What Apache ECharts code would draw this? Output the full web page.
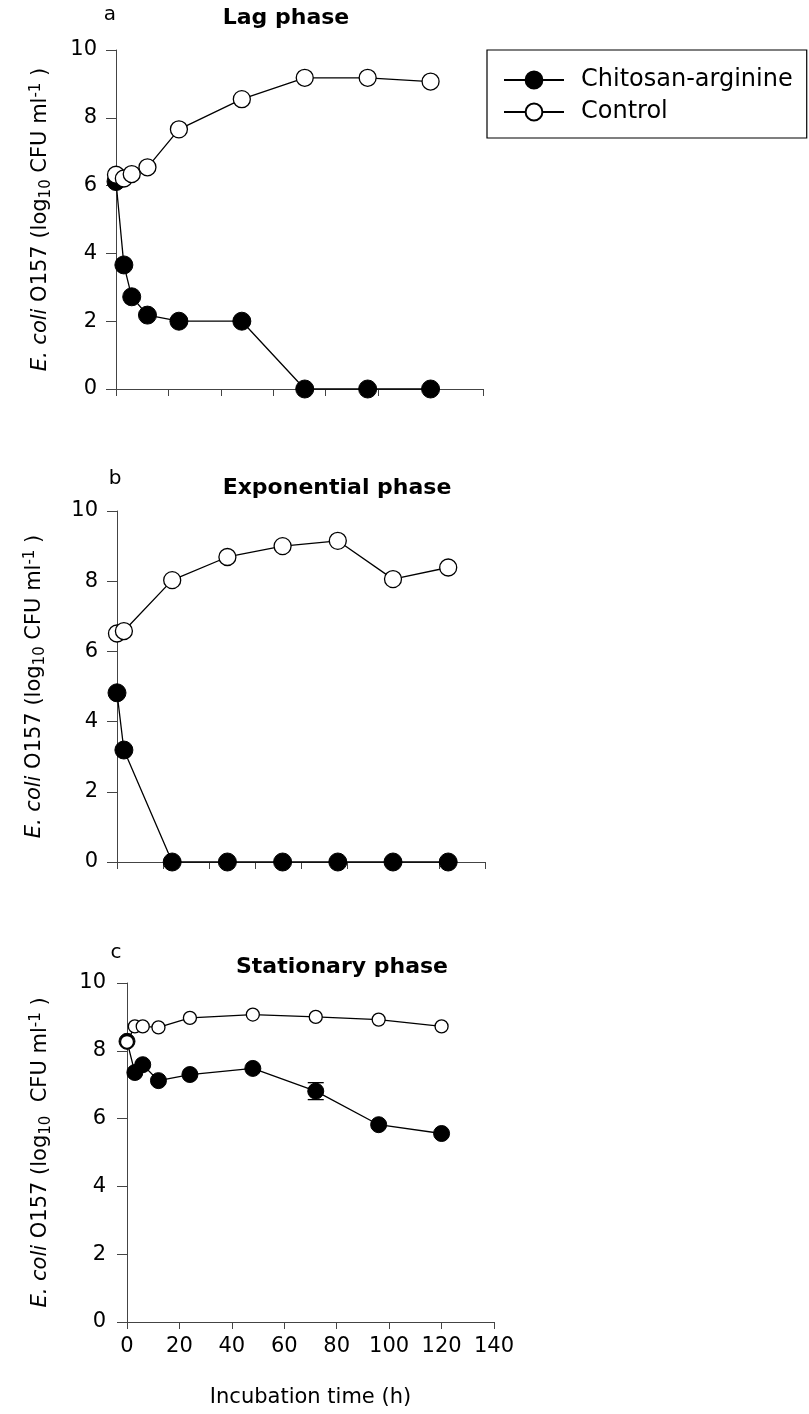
<!DOCTYPE html>
<html>
<head>
<meta charset="utf-8">
<script src="https://cdn.jsdelivr.net/npm/echarts@6/dist/echarts.min.js"></script>
<style>
  html, body { margin: 0; padding: 0; background: #fff; }
  #chart { width: 809px; height: 1414px; }
</style>
</head>
<body>
<div id="chart"></div>
<script>
// E. coli O157 counts (log10 CFU/ml) during incubation with chitosan-arginine vs control

const seriesNames = ['Chitosan-arginine', 'Control'];
const panelLetters = ['a', 'b', 'c'];
const panelTitles = ['Lag phase', 'Exponential phase', 'Stationary phase'];
const xAxisTitle = 'Incubation time (h)';
const yTickValues = [0, 2, 4, 6, 8, 10];
const xTickLabelsC = [0, 20, 40, 60, 80, 100, 120, 140];
const xMaxByPanel = [140, 160, 140];

// (a) lag phase
const lagTime = [0, 3, 6, 12, 24, 48, 72, 96, 120];
const lagChitosan = [6.12, 3.66, 2.72, 2.18, 2.0, 2.0, 0, 0, 0];
const lagControl = [6.32, 6.21, 6.34, 6.54, 7.66, 8.55, 9.18, 9.18, 9.07];

// (b) exponential phase
const expTime = [0, 3, 24, 48, 72, 96, 120, 144];
const expChitosan = [4.82, 3.19, 0, 0, 0, 0, 0, 0];
const expControl = [6.51, 6.58, 8.03, 8.69, 9.0, 9.15, 8.06, 8.39];

// (c) stationary phase
const statTime = [0, 3, 6, 12, 24, 48, 72, 96, 120];
const statChitosan = [8.28, 7.36, 7.59, 7.12, 7.30, 7.48, 6.81, 5.82, 5.56];
const statChitosanErr = [0, 0, 0, 0, 0, 0, 0.25, 0, 0];
const statControl = [8.26, 8.72, 8.72, 8.69, 8.97, 9.07, 9.0, 8.92, 8.72];

const FONT = 'DejaVu Sans';
const AXIS_COLOR = '#444';

const grids = [
  { left: 116, top: 50, width: 367, height: 339 },
  { left: 117, top: 511, width: 368, height: 351 },
  { left: 127, top: 983, width: 367, height: 339 }
];

const pairs = (xs, ys) => xs.map((x, i) => [x, ys[i]]);

const panels = [
  { time: lagTime, chit: lagChitosan, ctrl: lagControl, chitSize: 18, ctrlSize: 17 },
  { time: expTime, chit: expChitosan, ctrl: expControl, chitSize: 18, ctrlSize: 17 },
  { time: statTime, chit: statChitosan, ctrl: statControl, chitSize: 16, ctrlSize: 13 }
];

const xAxes = grids.map((g, i) => ({
  type: 'value', gridIndex: i, min: 0, max: xMaxByPanel[i], interval: 20,
  axisLine: { show: true, onZero: false, lineStyle: { color: AXIS_COLOR, width: 1 } },
  axisTick: { show: true, inside: false, length: 7, lineStyle: { color: AXIS_COLOR, width: 1 } },
  axisLabel: i === 2 ? {
    show: true, margin: 14, color: '#000', fontFamily: FONT, fontSize: 21,
    customValues: xTickLabelsC,
    formatter: v => String(v)
  } : { show: false },
  splitLine: { show: false },
  name: i === 2 ? xAxisTitle : '',
  nameLocation: 'middle', nameGap: 65,
  nameTextStyle: { color: '#000', fontFamily: FONT, fontSize: 21 }
}));

const yAxes = grids.map((g, i) => ({
  type: 'value', gridIndex: i, min: 0, max: 10, interval: 2,
  axisLine: { show: true, onZero: false, lineStyle: { color: AXIS_COLOR, width: 1 } },
  axisTick: { show: true, inside: false, length: 10, lineStyle: { color: AXIS_COLOR, width: 1 } },
  axisLabel: {
    show: true, margin: i === 2 ? 21 : 19, color: '#000', fontFamily: FONT, fontSize: 21,
    customValues: yTickValues
  },
  splitLine: { show: false }
}));

const series = [];
panels.forEach((p, i) => {
  series.push({
    name: seriesNames[0], type: 'line', xAxisIndex: i, yAxisIndex: i,
    data: pairs(p.time, p.chit), clip: false, z: 3,
    symbol: 'circle', symbolSize: p.chitSize, showAllSymbol: true,
    lineStyle: { color: '#000', width: 1.3 },
    itemStyle: { color: '#000', borderColor: '#000', borderWidth: 1 }
  });
  series.push({
    name: seriesNames[1], type: 'line', xAxisIndex: i, yAxisIndex: i,
    data: pairs(p.time, p.ctrl), clip: false, z: 4,
    symbol: 'circle', symbolSize: p.ctrlSize, showAllSymbol: true,
    lineStyle: { color: '#000', width: 1.3 },
    itemStyle: { color: '#fff', borderColor: '#000', borderWidth: 1.3 }
  });
});

// error bars for the stationary-phase chitosan-arginine series
const statErrData = statTime
  .map((t, i) => [t, statChitosan[i], statChitosanErr[i]])
  .filter(d => d[2] > 0);

series.push({
  type: 'custom', xAxisIndex: 2, yAxisIndex: 2, z: 2, clip: false,
  data: statErrData,
  renderItem: (params, api) => {
    const x = api.value(0), y = api.value(1), e = api.value(2);
    const top = api.coord([x, y + e]);
    const bot = api.coord([x, y - e]);
    const w = 8;
    const st = { stroke: '#000', lineWidth: 1.3 };
    return {
      type: 'group',
      children: [
        { type: 'line', shape: { x1: top[0], y1: top[1], x2: bot[0], y2: bot[1] }, style: st },
        { type: 'line', shape: { x1: top[0] - w, y1: top[1], x2: top[0] + w, y2: top[1] }, style: st },
        { type: 'line', shape: { x1: bot[0] - w, y1: bot[1], x2: bot[0] + w, y2: bot[1] }, style: st }
      ]
    };
  }
});

// rotated y-axis titles with italic species name, subscript and superscript
const base = { fontFamily: FONT, fontSize: 21, lineHeight: 25, fill: '#000', verticalAlign: 'middle' };
const rich = {
  i: Object.assign({}, base, { fontStyle: 'italic' }),
  n: Object.assign({}, base),
  sub: { fontFamily: FONT, fontSize: 15, lineHeight: 15, fill: '#000', verticalAlign: 'bottom' },
  sup: { fontFamily: FONT, fontSize: 15, lineHeight: 15, fill: '#000', verticalAlign: 'top' }
};
const yTitleText = [
  '{i|E. coli}{n| O157 (log}{sub|10}{n| CFU ml}{sup|-1}{n| )}',
  '{i|E. coli}{n| O157 (log}{sub|10}{n| CFU ml}{sup|-1}{n| )}',
  '{i|E. coli}{n| O157 (log}{sub|10}{n|  CFU ml}{sup|-1}{n| )}'
];
const yTitlePos = [[41, 219.5], [35, 686.5], [41, 1152.5]];
const titlePos = [[286, 18], [337, 488], [342, 967]];
const letterPos = [[110, 15], [115, 479], [116, 953]];

const graphics = [];
grids.forEach((g, i) => {
  graphics.push({
    type: 'text', x: yTitlePos[i][0], y: yTitlePos[i][1], rotation: Math.PI / 2,
    style: { text: yTitleText[i], rich: rich, align: 'center', verticalAlign: 'middle',
             fontFamily: FONT, fontSize: 21, fill: '#000' }
  });
  graphics.push({
    type: 'text', x: titlePos[i][0], y: titlePos[i][1],
    style: { text: panelTitles[i], align: 'center', verticalAlign: 'middle',
             fontFamily: FONT, fontSize: 22, fontWeight: 'bold', fill: '#000' }
  });
  graphics.push({
    type: 'text', x: letterPos[i][0], y: letterPos[i][1],
    style: { text: panelLetters[i], align: 'center', verticalAlign: 'middle',
             fontFamily: FONT, fontSize: 20, fill: '#000' }
  });
});

const chart = echarts.init(document.getElementById('chart'), null, { renderer: 'canvas' });
chart.setOption({
  animation: false,
  backgroundColor: '#fff',
  grid: grids,
  xAxis: xAxes,
  yAxis: yAxes,
  series: series,
  legend: {
    data: seriesNames,
    orient: 'vertical',
    left: 487, top: 50,
    itemWidth: 60, itemHeight: 21, itemGap: 8,
    padding: [18, 14, 14, 16],
    borderColor: '#000', borderWidth: 1.2,
    selectedMode: false,
    textStyle: { color: '#000', fontFamily: FONT, fontSize: 24, lineHeight: 24, padding: [0, 0, 0, 12] }
  },
  graphic: graphics
});
</script>
</body>
</html>
